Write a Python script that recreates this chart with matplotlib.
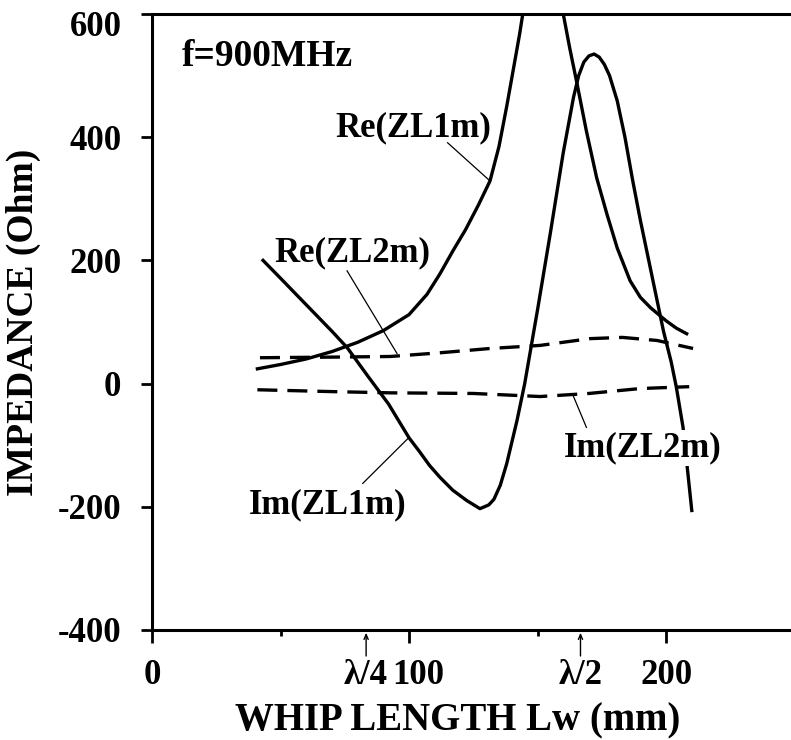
import matplotlib
matplotlib.use("Agg")
from matplotlib import pyplot as plt
from matplotlib import transforms

plt.rcParams['font.family'] = ['Liberation Serif', 'DejaVu Serif']
plt.rcParams['font.weight'] = 'bold'

# Re(ZL1m): solid, goes off scale around the half-wave resonance
re1_x = [41, 50, 60, 70, 80, 90, 100, 107, 112, 117, 122, 127, 131.5, 135, 138, 141, 143,
         145, 148, 152, 157, 160, 162.5, 165.4, 169, 173, 177, 181, 186, 190, 194, 200,
         204, 208]
re1_y = [24, 31, 40, 52, 67, 86, 112, 145, 178, 215, 250, 290, 329, 385, 450, 520, 567,
         620, 700, 730, 700, 600, 545, 486, 410, 334, 275, 220, 167, 140, 123, 102,
         90, 81]

# Im(ZL1m): solid
im1_x = [43.2, 50, 60, 70, 76, 84, 92, 100, 104, 108, 112, 117, 122.5, 127.6, 131, 133,
         135.5, 138, 142, 145, 150, 155, 160, 164, 166, 168, 170, 172, 174, 176, 178,
         181, 184, 187, 190, 193, 196, 199, 202, 204, 206.6, 210]
im1_y = [200, 171, 128, 85, 58, 12, -33, -88, -110, -133, -152, -173, -190, -203, -197,
         -188, -165, -130, -60, 0, 120, 245, 375, 465, 500, 522, 532, 535, 530, 518, 500,
         459, 400, 330, 265, 205, 145, 85, 35, -6, -71, -206]

# Re(ZL2m): dashed
re2_x = [42, 70, 92.6, 112, 131.5, 151, 170.4, 183, 196.5, 210.5]
re2_y = [42, 43, 44, 50, 57, 62, 73, 75, 70, 57]

# Im(ZL2m): dashed
im2_x = [41, 70, 92.6, 125, 151, 170, 190, 209]
im2_y = [-10, -13, -15, -16, -21, -16, -8, -5]

# label text, label centre, leader line (from, to)
labels = ['Re(ZL1m)', 'Re(ZL2m)', 'Im(ZL1m)', 'Im(ZL2m)']
label_pos = [(101.6, 415), (78, 212), (68.5, -196), (191, -105)]
leader_from = [(115, 391), (75.9, 183), (82, -162), (169, -71)]
leader_to = [(131.5, 329), (95.3, 49), (99.6, -89), (163.8, -19)]

lam4 = 83.3
lam2 = 166.7

fig = plt.figure(figsize=(7.91, 7.40), dpi=100)
ax = fig.add_axes([152 / 791, 1 - 630 / 740, 1 - 152 / 791, (630 - 14) / 740])

ax.plot(re1_x, re1_y, color='black', lw=2.4, solid_joinstyle='round')
ax.plot(im1_x, im1_y, color='black', lw=2.4, solid_joinstyle='round')
ax.plot(re2_x, re2_y, color='black', lw=2.4, dashes=(6, 3))
ax.plot(im2_x, im2_y, color='black', lw=2.4, dashes=(6, 3))

for lab, pos, a, b in zip(labels, label_pos, leader_from, leader_to):
    ax.plot([a[0], b[0]], [a[1], b[1]], color='black', lw=0.9)
    bbox = None
    if lab == 'Im(ZL2m)':
        bbox = dict(facecolor='white', edgecolor='none', pad=1)
    ax.text(pos[0], pos[1], lab, ha='center', va='center', fontsize=25,
            fontweight='bold', bbox=bbox, zorder=5)

ax.text(11.7, 531, 'f=900MHz', ha='left', va='center', fontsize=27, fontweight='bold')

ax.set_xlim(0, 248.6)
ax.set_ylim(-400, 600)
ax.spines['right'].set_visible(False)
for s in ['left', 'top', 'bottom']:
    ax.spines[s].set_linewidth(2.2)

ax.set_yticks([-400, -200, 0, 200, 400, 600])
ax.set_yticklabels(['-400', '-200', '0', '200', '400', '600'])
ax.set_xticks([0, 100, 200])
ax.set_xticklabels(['0', '100', '200'])
ax.set_xticks([50, 150], minor=True)
ax.tick_params(axis='y', direction='out', length=8, width=2, pad=14, labelsize=25)
ax.tick_params(axis='x', which='major', direction='out', length=9, width=2, pad=12,
               labelsize=25)
ax.tick_params(axis='x', which='minor', direction='out', length=4, width=2)

# nudge "100" right (as in the original) and "600" down
for lab in ax.get_xticklabels():
    if lab.get_text() == '100':
        lab.set_transform(lab.get_transform() +
                          transforms.ScaledTranslation(9 / 100, 0, fig.dpi_scale_trans))
for lab in ax.get_yticklabels():
    if lab.get_text() == '600':
        lab.set_transform(lab.get_transform() +
                          transforms.ScaledTranslation(0, -10 / 100, fig.dpi_scale_trans))

# lambda markers below the axis
trans = transforms.blended_transform_factory(ax.transData, ax.transAxes)
for xv, txt in [(lam4, 'λ/4'), (lam2, 'λ/2')]:
    ax.annotate('', xy=(xv, 0), xycoords=trans, xytext=(0, -26),
                textcoords='offset pixels',
                arrowprops=dict(arrowstyle='->,head_length=0.35,head_width=0.15',
                                lw=1.0, color='black', shrinkA=0, shrinkB=2))
    ax.annotate(txt, xy=(xv, 0), xycoords=trans, xytext=(0, -45),
                textcoords='offset pixels', ha='center', va='center',
                fontsize=25, fontweight='bold')

ax.set_xlabel('WHIP LENGTH Lw (mm)', fontsize=28, fontweight='bold')
ax.set_ylabel('IMPEDANCE (Ohm)', fontsize=27, fontweight='bold', labelpad=12)
ax.xaxis.set_label_coords((458 - 152) / (791 - 152), -(702 - 630) / 616)

fig.savefig('out.png', dpi=100)
